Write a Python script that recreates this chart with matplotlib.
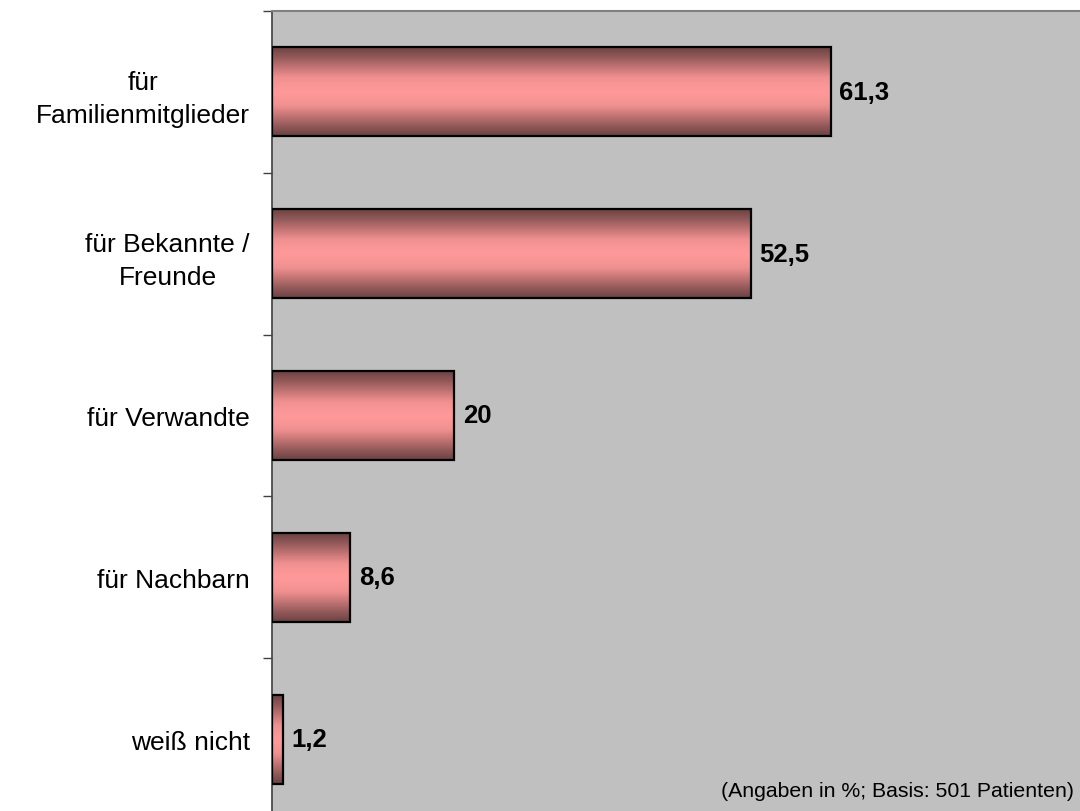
import matplotlib.pyplot as plt
import numpy as np
from matplotlib.colors import LinearSegmentedColormap

plt.rcParams['font.family'] = ['Liberation Sans', 'DejaVu Sans']

categories = ['für\nFamilienmitglieder', 'für Bekannte /\nFreunde', 'für Verwandte',
              'für Nachbarn', 'weiß nicht']
values = [61.3, 52.5, 20, 8.6, 1.2]
value_labels = ['61,3', '52,5', '20', '8,6', '1,2']
note = '(Angaben in %; Basis: 501 Patienten)'

fig = plt.figure(figsize=(10.8, 8.12), dpi=100)
ax = fig.add_axes([272 / 1080, -9 / 812, 1 - 272 / 1080, 809 / 812])
ax.set_facecolor('#c0c0c0')

y = np.arange(len(categories))
bars = ax.barh(y, values, height=0.55, facecolor='none', edgecolor='black',
               linewidth=1.6, zorder=3)

# cylinder-like shading: dark at top and bottom, light pink in the middle
cmap = LinearSegmentedColormap.from_list('bar', ['#ff9999', '#f09090', '#c07272', '#905858', '#6c4242'])
t = np.linspace(-1, 1, 256)
grad = (np.abs(t) ** 1.2).reshape(-1, 1)
for p in bars.patches:
    x0, y0 = p.get_x(), p.get_y()
    w, h = p.get_width(), p.get_height()
    ax.imshow(grad, cmap=cmap, aspect='auto', extent=[x0, x0 + w, y0 + h, y0],
              interpolation='bilinear', zorder=2)

ax.bar_label(bars, labels=value_labels, padding=6, fontsize=18.5, fontweight='bold')

ax.set_xlim(0, 88.6)
ax.set_ylim(len(categories) - 0.5, -0.5)

ax.set_yticks(y)
ax.set_yticklabels(categories, fontsize=19, multialignment='center', linespacing=1.45)
ax.tick_params(axis='y', which='major', length=0, pad=16)
ax.set_yticks(np.arange(len(categories)) - 0.5, minor=True)
ax.tick_params(axis='y', which='minor', length=6.5, width=1, color='#404040', direction='out')
ax.set_xticks([])

for side in ['right', 'bottom']:
    ax.spines[side].set_visible(False)
ax.spines['top'].set_color('#808080')
ax.spines['top'].set_linewidth(1.5)
ax.spines['left'].set_color('#404040')
ax.spines['left'].set_linewidth(1.2)

fig.text(0.994, 0.025, note, ha='right', va='center', fontsize=15.3)

fig.savefig('out.png', dpi=100)
